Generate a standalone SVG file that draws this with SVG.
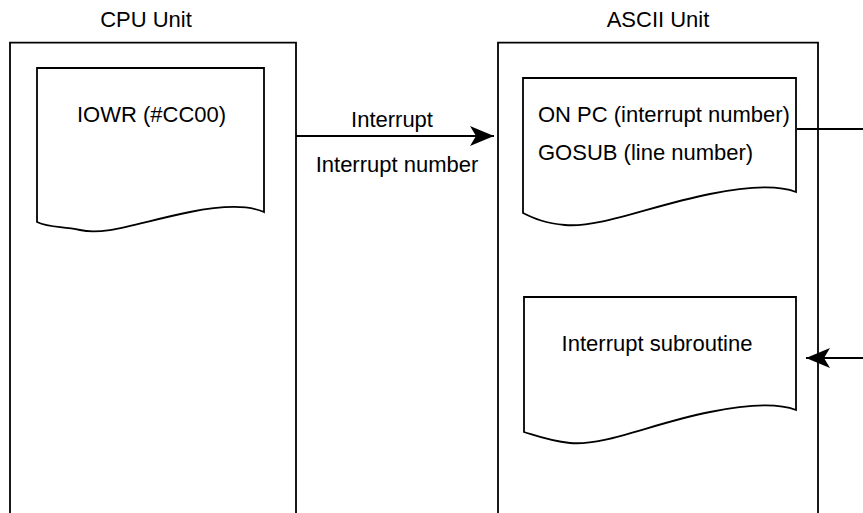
<svg xmlns="http://www.w3.org/2000/svg" width="863" height="513" viewBox="0 0 863 513">
<style>
.box{fill:none;stroke:#000;stroke-width:1.8}
.doc{fill:#fff;stroke:#000;stroke-width:1.8}
.t{font-family:"Liberation Sans",Arial,sans-serif;font-size:22px;fill:#000}
.c{text-anchor:middle}
.ln{fill:none;stroke:#000;stroke-width:1.8}
</style>
<defs>
<marker id="ah" viewBox="0 0 24 20" refX="24" refY="10" markerWidth="24" markerHeight="20" markerUnits="userSpaceOnUse" orient="auto">
<path d="M0,0 L24,10 L0,20 L6,10 Z" fill="#000"/>
</marker>
</defs>
<g id="cpu-unit">
<path class="box" d="M10,513 V42.7 H296 V513"/>
<text class="t c" x="146" y="27">CPU Unit</text>
</g>
<g id="ascii-unit">
<path class="box" d="M498,513 V42.7 H818 V513"/>
<text class="t c" x="658" y="27">ASCII Unit</text>
</g>
<g id="iowr-doc">
<path class="doc" d="M37,68 H264 V212 C248,205 225,205 190,212 C140,222 105,236 80,230 C60,226 50,228 37,222 Z"/>
<text class="t" x="77" y="122">IOWR (#CC00)</text>
</g>
<g id="onpc-doc">
<path class="doc" d="M523,78 H796 V192 C778,185 750,186 710,194 C650,206 600,228 565,225 C545,223 535,219 523,213 Z"/>
<text class="t" x="538" y="122">ON PC (interrupt number)</text>
<text class="t" x="538" y="160">GOSUB (line number)</text>
</g>
<g id="sub-doc">
<path class="doc" d="M524,297 H796 V410 C778,403 750,404 710,412 C650,424 605,446 570,443 C550,441 540,437 524,432 Z"/>
<text class="t c" x="657" y="351">Interrupt subroutine</text>
</g>
<g id="connectors">
<line class="ln" x1="296" y1="136" x2="494" y2="136" marker-end="url(#ah)"/>
<text class="t c" x="392" y="127">Interrupt</text>
<text class="t c" x="397" y="172">Interrupt number</text>
<line class="ln" x1="797" y1="129" x2="863" y2="129"/>
<line class="ln" x1="863" y1="358" x2="806" y2="358" marker-end="url(#ah)"/>
</g>
</svg>
